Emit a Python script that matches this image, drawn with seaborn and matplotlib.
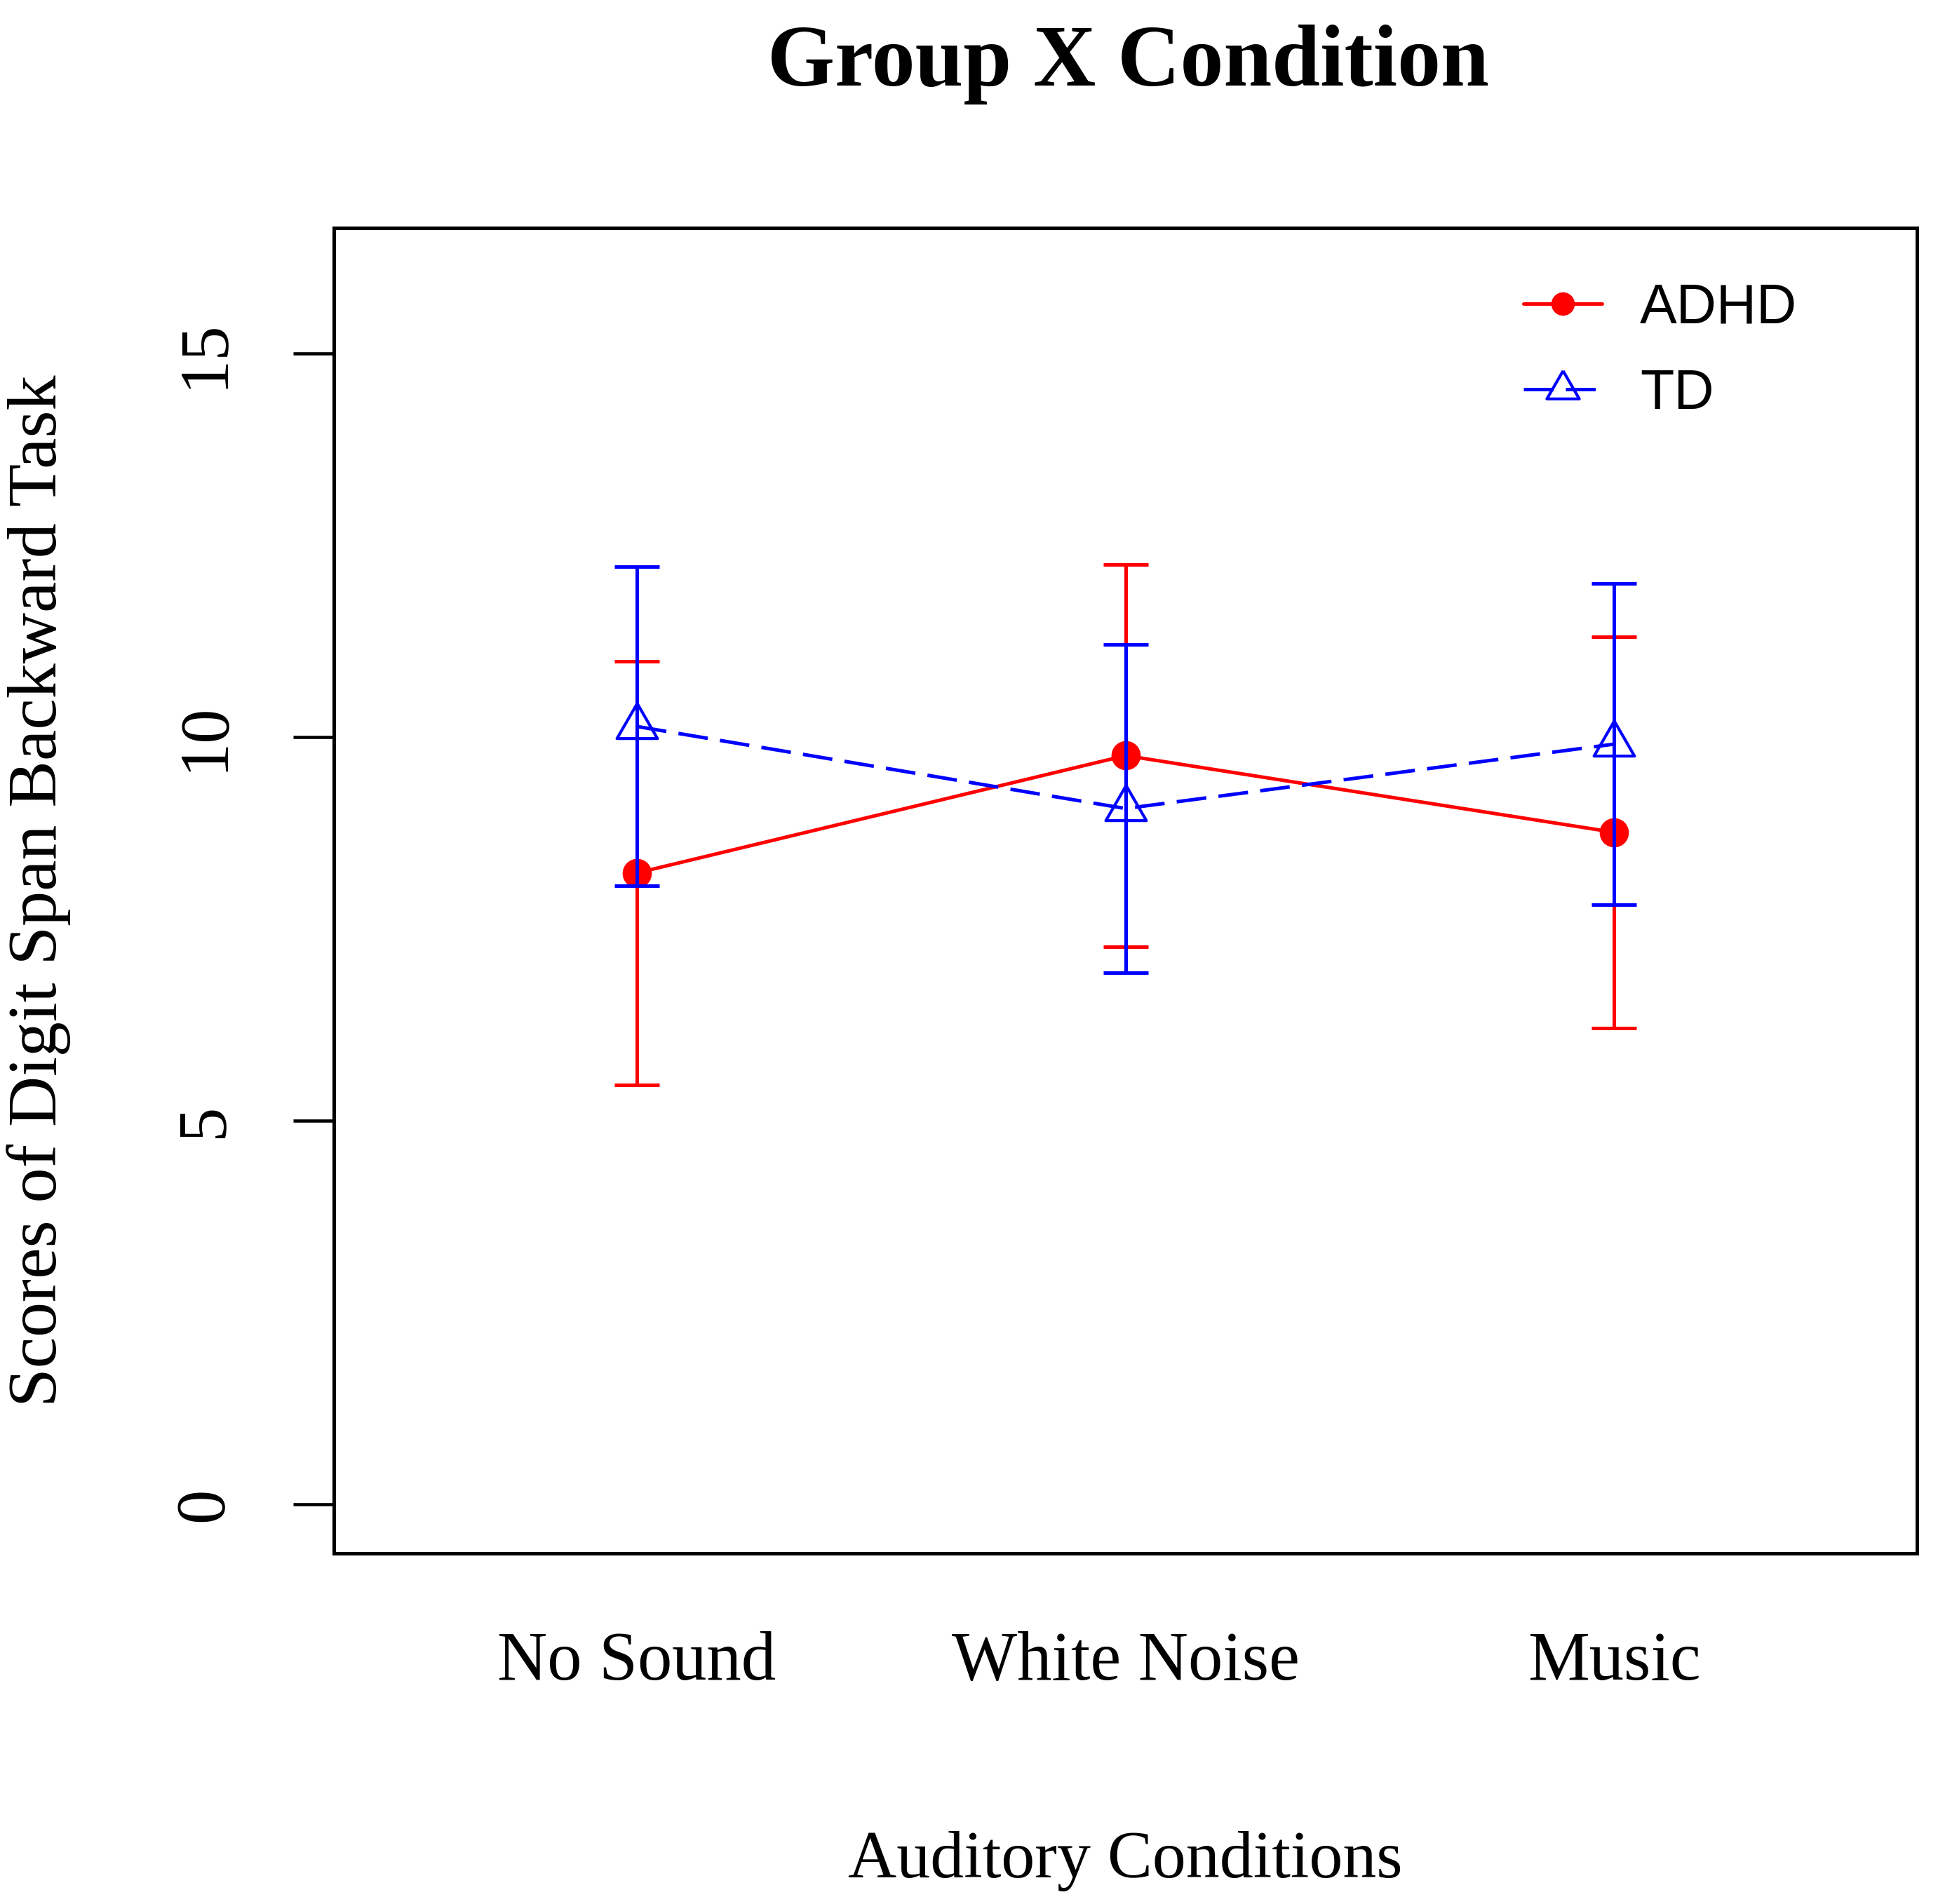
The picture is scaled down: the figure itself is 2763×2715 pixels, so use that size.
import numpy as np
import pandas as pd
import matplotlib
matplotlib.use("Agg")
import matplotlib.pyplot as plt
import seaborn as sns

# ---- data ----
conditions = ["No Sound", "White Noise", "Music"]
positions = [1, 2, 3]
adhd_mean = [8.23, 9.76, 8.76]
adhd_err = [2.76, 2.49, 2.55]
td_mean = [10.14, 9.07, 9.91]
td_err = [2.08, 2.14, 2.09]

y_ticks = [0, 5, 10, 15]

sns.set_theme(style="ticks")
plt.rcParams["font.family"] = ["Liberation Serif", "DejaVu Serif"]
plt.rcParams.update({"text.color": "black", "axes.labelcolor": "black",
                     "xtick.color": "black", "ytick.color": "black",
                     "axes.edgecolor": "black"})

fig = plt.figure(figsize=(27.63, 27.15), dpi=100)
ax = fig.add_axes([0.1723, 0.1842, 0.8170, 0.6961])

df_adhd = pd.DataFrame({"pos": positions, "score": adhd_mean})
df_td = pd.DataFrame({"pos": positions, "score": td_mean})

# equilateral triangle centred on its centroid (like R pch = 2)
tri = [(0, 1.155), (-1, -0.577), (1, -0.577), (0, 1.155)]

lw = 3.6

# ADHD: error bars, then line + filled circles
ax.errorbar(positions, adhd_mean, yerr=adhd_err, fmt="none", ecolor="red",
            elinewidth=lw, capsize=23, capthick=lw, zorder=2)
sns.lineplot(data=df_adhd, x="pos", y="score", ax=ax, color="red",
             marker="o", markersize=30, markeredgecolor="red",
             markerfacecolor="red", markeredgewidth=0, linewidth=lw,
             errorbar=None, label="ADHD", zorder=3)

# TD: error bars, then dashed line + open triangles
ax.errorbar(positions, td_mean, yerr=td_err, fmt="none", ecolor="blue",
            elinewidth=lw, capsize=23, capthick=lw, zorder=4)
sns.lineplot(data=df_td, x="pos", y="score", ax=ax, color="blue",
             marker=tri, markersize=48, markeredgecolor="blue",
             markerfacecolor="none", markeredgewidth=3.0, linewidth=lw,
             linestyle=(0, (8.5, 3.5)), errorbar=None, label="TD", zorder=5)

# axes limits like R (4% extension)
ax.set_xlim(0.38, 3.62)
ax.set_ylim(-0.64, 16.64)

ax.set_xticks(positions)
ax.set_xticklabels(conditions, fontsize=71)
ax.tick_params(axis="x", length=0, pad=80)

ax.set_yticks(y_ticks)
ax.set_yticklabels([str(t) for t in y_ticks], fontsize=71, rotation=90, va="center")
ax.tick_params(axis="y", length=42, width=3.3, pad=58, color="black")

for sp in ax.spines.values():
    sp.set_visible(True)
    sp.set_linewidth(3.6)
    sp.set_color("black")

ax.set_xlabel("Auditory Conditions", fontsize=69, labelpad=140)
ax.set_ylabel("Scores of Digit Span Backward Task", fontsize=72, labelpad=105)

fig.text(0.582, 0.955, "Group X Condition", fontsize=89, fontweight="bold",
         ha="center", va="baseline")

leg = ax.legend(loc="upper left", bbox_to_anchor=(0.7513, 0.959),
                frameon=False, borderpad=0, borderaxespad=0,
                handlelength=1.42, handletextpad=0.68, labelspacing=0.6,
                markerscale=0.8,
                prop={"family": ["Liberation Sans", "DejaVu Sans"], "size": 57})

fig.savefig("out.png", dpi=100, facecolor="white")
